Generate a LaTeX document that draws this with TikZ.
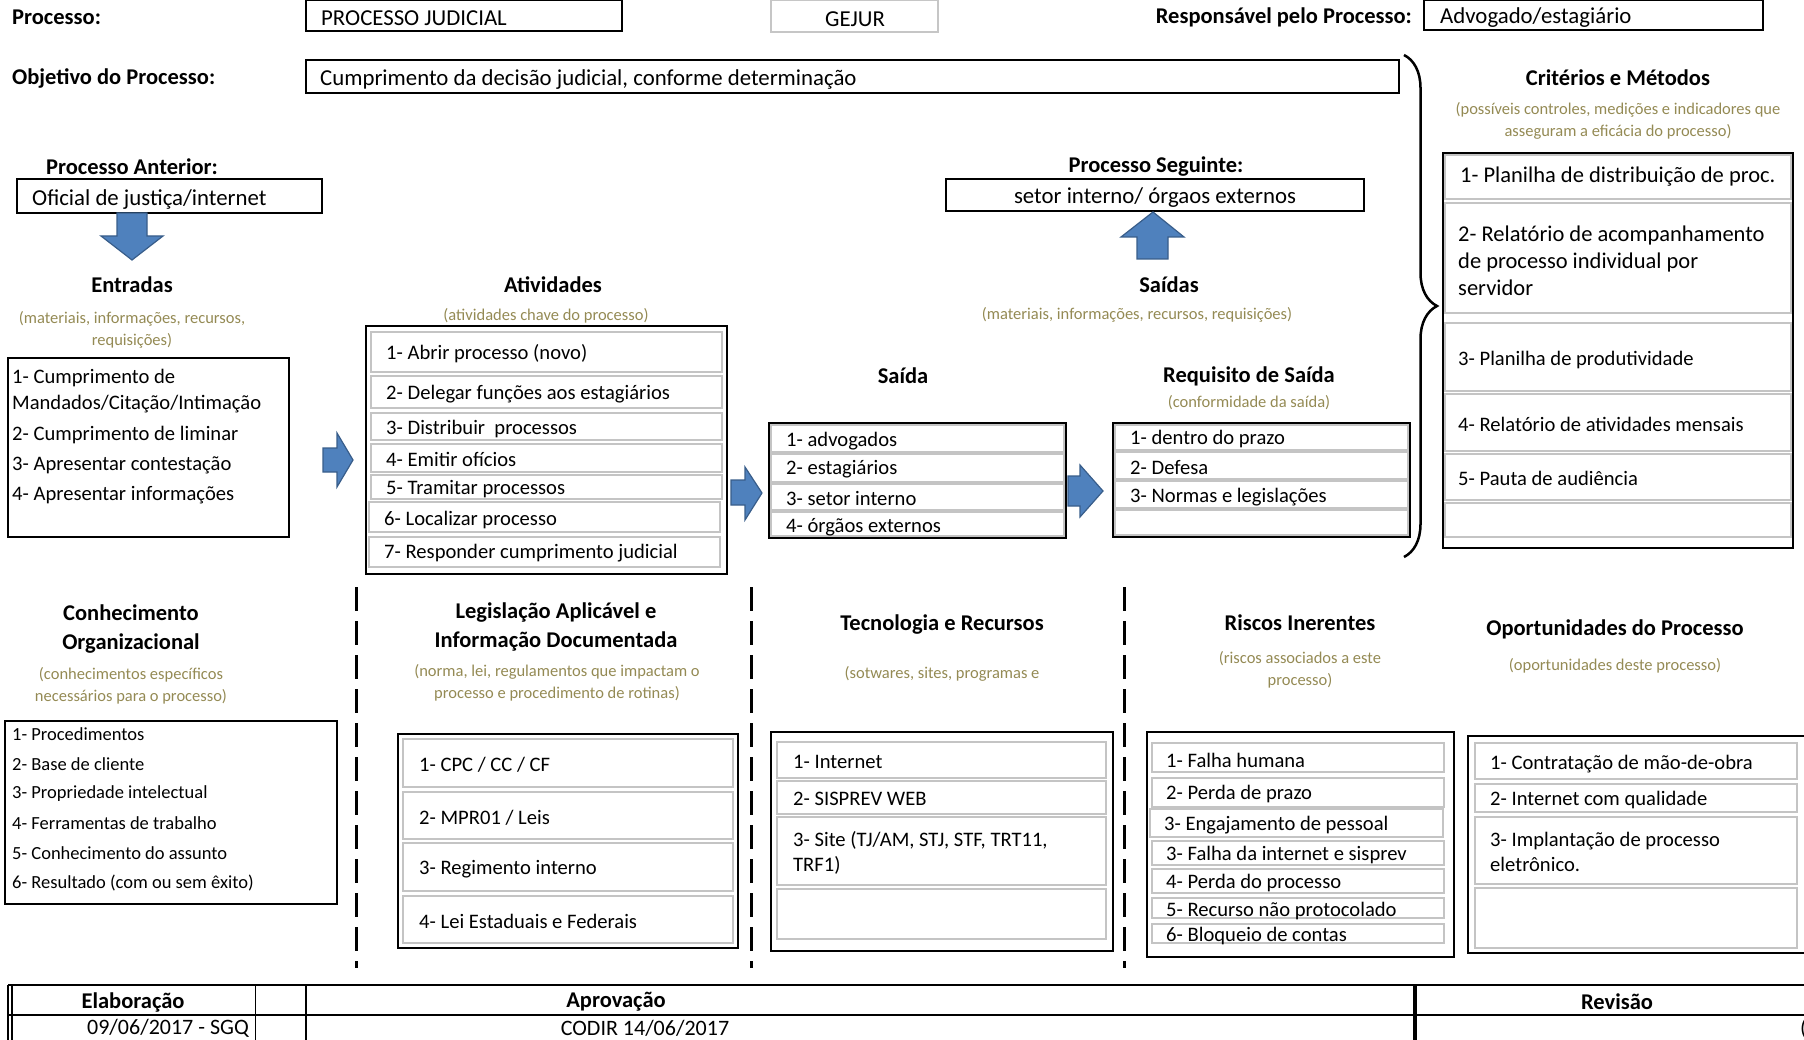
\documentclass[tikz,border=0pt]{standalone}
\usepackage{fontspec}
\setmainfont{Carlito}
\usetikzlibrary{decorations.pathreplacing}

\definecolor{olivetxt}{HTML}{948A54}
\definecolor{arrowblue}{HTML}{4F81BD}
\definecolor{arrowedge}{HTML}{385D8A}
\definecolor{cellgray}{HTML}{C4C4C4}

\tikzset{
  outerbox/.style={draw=black, line width=1.6},
  cellbox/.style={draw=cellgray, line width=2},
  itemtxt/.style={anchor=west, align=left, yshift=-1pt, font=\fontsize{20.6}{25}\selectfont},
  toptxt/.style={yshift=-2pt, font=\fontsize{22.8}{27}\selectfont},
  smalltxt/.style={anchor=west, font=\fontsize{18.5}{22}\selectfont},
  bigtxt/.style={anchor=west, align=left, font=\fontsize{22.5}{27}\selectfont},
  titletxt/.style={align=center, font=\bfseries\fontsize{22.5}{29.5}\selectfont},
  notetxt/.style={align=center, text=olivetxt, font=\fontsize{16.5}{22}\selectfont},
  blockarrow/.style={fill=arrowblue, draw=arrowedge, line width=1.2},
  divider/.style={line width=3, dash pattern=on 24 off 10}
}

\begin{document}
\begin{tikzpicture}[x=1pt,y=-1pt]
\tikzstyle{every node}+=[inner sep=0pt]
\useasboundingbox (0,0) rectangle (1804,1040);
% header
\node[titletxt, anchor=west] (proclbl) at (12,17) {Processo:};
\draw [outerbox] (306,0) rectangle (622,31);
\node[toptxt, anchor=west] (procname) at (321,16) {PROCESSO JUDICIAL};
\draw [draw=gray!45, line width=1.5] (771,0) rectangle (938,32);
\node[toptxt] (gejur) at (855,17) {GEJUR};
\node[titletxt, anchor=east] (resplbl) at (1412,17) {Responsável pelo Processo:};
\draw [outerbox] (1424,0) rectangle (1763,30);
\node[toptxt, anchor=west] (resp) at (1440,16) {Advogado/estagiário};
\node[titletxt, anchor=west] (objlbl) at (12,78) {Objetivo do Processo:};
\draw [outerbox] (306,60) rectangle (1399,93);
\node[toptxt, anchor=west] (obj) at (320,78) {Cumprimento da decisão judicial, conforme determinação};
\draw [line width=2.5, decorate, decoration={brace, amplitude=33}] (1404,55) -- (1404,557);

% criterios e metodos
\node[titletxt] (crittitle) at (1618,78) {Critérios e Métodos};
\node[notetxt] (critnote) at (1618,121) {(possíveis controles, medições e indicadores que\\asseguram a eficácia do processo)};
\draw [outerbox] (1443,153) rectangle (1793,548);
\draw [cellbox] (1445,155) rectangle (1791,199);
\draw [cellbox] (1445,203) rectangle (1791,313);
\draw [cellbox] (1445,323) rectangle (1791,391);
\draw [cellbox] (1445,394) rectangle (1791,451);
\draw [cellbox] (1445,454) rectangle (1791,500);
\draw [cellbox] (1445,503) rectangle (1791,537);
\node[bigtxt] (crit1) at (1460,177) {1- Planilha de distribuição de proc.};
\node[bigtxt] (crit2) at (1458,261) {2- Relatório de acompanhamento\\de processo individual por\\servidor};
\node[itemtxt] (crit3) at (1458,359) {3- Planilha de produtividade};
\node[itemtxt] (crit4) at (1458,423) {4- Relatório de atividades mensais};
\node[itemtxt] (crit5) at (1458,477) {5- Pauta de audiência};

% processo anterior / entradas
\node[titletxt] (anttitle) at (132,167) {Processo Anterior:};
\draw [outerbox] (17,179) rectangle (322,213);
\node[toptxt, anchor=west] (ant) at (32,198) {Oficial de justiça/internet};
\filldraw [blockarrow] (117,213) -- (147,213) -- (147,236) -- (163,236) -- (132,260) -- (101,236) -- (117,236) -- cycle;
\node[titletxt] (enttitle) at (132,285) {Entradas};
\node[notetxt] (entnote) at (132,330) {(materiais, informações, recursos,\\requisições)};
\draw [outerbox] (8,358) rectangle (289,537);
\node[itemtxt] (ent1a) at (12,377) {1- Cumprimento de};
\node[itemtxt] (ent1b) at (12,403) {Mandados/Citação/Intimação};
\node[itemtxt] (ent2) at (12,434) {2- Cumprimento de liminar};
\node[itemtxt] (ent3) at (12,464) {3- Apresentar contestação};
\node[itemtxt] (ent4) at (12,494) {4- Apresentar informações};
\filldraw [blockarrow] (323,448) -- (337,448) -- (337,433) -- (353,460) -- (337,487) -- (337,472) -- (323,472) -- cycle;

% atividades
\node[titletxt] (atvtitle) at (553,285) {Atividades};
\node[notetxt] (atvnote) at (546,316) {(atividades chave do processo)};
\draw [outerbox] (366,326) rectangle (727,574);
\draw [cellbox] (371,332) rectangle (722,372);
\draw [cellbox] (371,376) rectangle (722,408);
\draw [cellbox] (371,413) rectangle (722,440);
\draw [cellbox] (371,444) rectangle (722,472);
\draw [cellbox] (371,475) rectangle (722,499);
\draw [cellbox] (369,502) rectangle (720,532);
\draw [cellbox] (369,537) rectangle (720,567);
\node[itemtxt] (atv1) at (386,353) {1- Abrir processo (novo)};
\node[itemtxt] (atv2) at (386,393) {2- Delegar funções aos estagiários};
\node[itemtxt] (atv3) at (386,428) {3- Distribuir\ \ processos};
\node[itemtxt] (atv4) at (386,458) {4- Emitir ofícios};
\node[itemtxt] (atv5) at (386,488) {5- Tramitar processos};
\node[itemtxt] (atv6) at (384,519) {6- Localizar processo};
\node[itemtxt] (atv7) at (384,552) {7- Responder cumprimento judicial};
\filldraw [blockarrow] (731,480) -- (745,480) -- (745,467) -- (762,493) -- (745,520) -- (745,505) -- (731,505) -- cycle;

% processo seguinte / saidas
\node[titletxt] (segtitle) at (1156,167) {Processo Seguinte:};
\draw [outerbox] (946,179) rectangle (1364,211);
\node[toptxt] (seg) at (1155,196) {setor interno/ órgaos externos};
\filldraw [blockarrow] (1137,259) -- (1168,259) -- (1168,237) -- (1184,237) -- (1153,212) -- (1121,237) -- (1137,237) -- cycle;
\node[titletxt] (saidastitle) at (1169,285) {Saídas};
\node[notetxt] (saidasnote) at (1137,315) {(materiais, informações, recursos, requisições)};

\node[titletxt] (saidatitle) at (903,376) {Saída};
\draw [outerbox] (769,423) rectangle (1066,538);
\draw [cellbox] (771,425) rectangle (1064,452);
\draw [cellbox] (771,454) rectangle (1064,482);
\draw [cellbox] (771,484) rectangle (1064,510);
\draw [cellbox] (771,512) rectangle (1064,536);
\node[itemtxt] (saida1) at (786,440) {1- advogados};
\node[itemtxt] (saida2) at (786,468) {2- estagiários};
\node[itemtxt] (saida3) at (786,497) {3- setor interno};
\node[itemtxt] (saida4) at (786,526) {4- órgãos externos};
\filldraw [blockarrow] (1068,476) -- (1080,476) -- (1080,465) -- (1103,491) -- (1080,517) -- (1080,506) -- (1068,506) -- cycle;

\node[titletxt] (reqtitle) at (1249,376) {Requisito de Saída};
\node[notetxt] (reqnote) at (1249,403) {(conformidade da saída)};
\draw [outerbox] (1113,423) rectangle (1410,537);
\draw [cellbox] (1115,425) rectangle (1408,450);
\draw [cellbox] (1115,452) rectangle (1408,479);
\draw [cellbox] (1115,481) rectangle (1408,508);
\draw [cellbox] (1115,510) rectangle (1408,535);
\node[itemtxt] (req1) at (1130,438) {1- dentro do prazo};
\node[itemtxt] (req2) at (1130,467) {2- Defesa};
\node[itemtxt] (req3) at (1130,496) {3- Normas e legislações};

% dividers
\draw [divider] (356,587) -- (356,968);
\draw [divider] (751,587) -- (751,968);
\draw [divider] (1124,587) -- (1124,968);

% conhecimento organizacional
\node[titletxt] (contitle) at (131,629) {Conhecimento\\Organizacional};
\node[notetxt] (connote) at (131,686) {(conhecimentos específicos\\necessários para o processo)};
\draw [outerbox] (5,721) rectangle (337,904);
\node[smalltxt] (con1) at (12,734) {1- Procedimentos};
\node[smalltxt] (con2) at (12,764) {2- Base de cliente};
\node[smalltxt] (con3) at (12,794) {3- Propriedade intelectual};
\node[smalltxt] (con4) at (12,823) {4- Ferramentas de trabalho};
\node[smalltxt] (con5) at (12,853) {5- Conhecimento do assunto};
\node[smalltxt] (con6) at (12,883) {6- Resultado (com ou sem êxito)};

% legislacao
\node[titletxt] (legtitle) at (556,627) {Legislação Aplicável e\\Informação Documentada};
\node[notetxt] (legnote) at (557,683) {(norma, lei, regulamentos que impactam o\\processo e procedimento de rotinas)};
\draw [outerbox] (398,734) rectangle (738,948);
\draw [cellbox] (403,739) rectangle (733,787);
\draw [cellbox] (403,792) rectangle (733,839);
\draw [cellbox] (403,843) rectangle (733,891);
\draw [cellbox] (403,896) rectangle (733,943);
\node[itemtxt] (leg1) at (419,764) {1- CPC / CC / CF};
\node[itemtxt] (leg2) at (419,817) {2- MPR01 / Leis};
\node[itemtxt] (leg3) at (419,868) {3- Regimento interno};
\node[itemtxt] (leg4) at (419,920) {4- Lei Estaduais e Federais};

% tecnologia
\node[titletxt] (tectitle) at (942,625) {Tecnologia e Recursos};
\node[notetxt] (tecnote) at (942,674) {(sotwares, sites, programas e};
\draw [outerbox] (771,732) rectangle (1113,951);
\draw [cellbox] (777,742) rectangle (1106,778);
\draw [cellbox] (777,781) rectangle (1106,814);
\draw [cellbox] (777,817) rectangle (1106,885);
\draw [cellbox] (777,889) rectangle (1106,939);
\node[itemtxt] (tec1) at (793,761) {1- Internet};
\node[itemtxt] (tec2) at (793,798) {2- SISPREV WEB};
\node[itemtxt] (tec3) at (793,852) {3- Site (TJ/AM, STJ, STF, TRT11,\\TRF1)};

% riscos
\node[titletxt] (risktitle) at (1300,623) {Riscos Inerentes};
\node[notetxt] (risknote) at (1300,670) {(riscos associados a este\\processo)};
\draw [outerbox] (1147,732) rectangle (1454,957);
\draw [cellbox] (1152,743) rectangle (1444,772);
\draw [cellbox] (1152,778) rectangle (1444,807);
\draw [cellbox] (1150,809) rectangle (1443,837);
\draw [cellbox] (1152,841) rectangle (1444,865);
\draw [cellbox] (1152,869) rectangle (1444,893);
\draw [cellbox] (1152,898) rectangle (1444,918);
\draw [cellbox] (1152,924) rectangle (1444,943);
\node[itemtxt] (risk1) at (1166,759) {1- Falha humana};
\node[itemtxt] (risk2) at (1166,793) {2- Perda de prazo};
\node[itemtxt] (risk3) at (1164,824) {3- Engajamento de pessoal};
\node[itemtxt] (risk4) at (1166,854) {3- Falha da internet e sisprev};
\node[itemtxt] (risk5) at (1166,882) {4- Perda do processo};
\node[itemtxt] (risk6) at (1166,910) {5- Recurso não protocolado};
\node[itemtxt] (risk7) at (1166,935) {6- Bloqueio de contas};

% oportunidades
\node[titletxt] (opptitle) at (1615,629) {Oportunidades do Processo};
\node[notetxt] (oppnote) at (1615,666) {(oportunidades deste processo)};
\draw [outerbox] (1468,736) rectangle (1808,953);
\draw [cellbox] (1475,743) rectangle (1797,779);
\draw [cellbox] (1475,784) rectangle (1797,812);
\draw [cellbox] (1475,817) rectangle (1797,884);
\draw [cellbox] (1475,888) rectangle (1797,948);
\node[itemtxt] (opp1) at (1490,763) {1- Contratação de mão-de-obra};
\node[itemtxt] (opp2) at (1490,799) {2- Internet com qualidade};
\node[itemtxt] (opp3) at (1490,851) {3- Implantação de processo\\eletrônico.};

% rodape
\draw [line width=2.2] (8,985) -- (1804,985);
\draw [line width=1.2] (8,1015) -- (1804,1015);
\draw [line width=1.2] (8,985) -- (8,1040);
\draw [line width=1.2] (12,985) -- (12,1040);
\draw [line width=1] (255,985) -- (255,1040);
\draw [line width=1.8] (306,985) -- (306,1040);
\draw [line width=3.5] (1415,985) -- (1415,1040);
\node[titletxt] (elab) at (133,1002) {Elaboração};
\node[font=\fontsize{22}{26}\selectfont] (elabdata) at (168,1028) {09/06/2017 - SGQ};
\node[titletxt] (aprov) at (616,1002) {Aprovação};
\node[font=\fontsize{22}{26}\selectfont] (aprovdata) at (645,1028) {CODIR 14/06/2017};
\node[titletxt] (rev) at (1617,1002) {Revisão};
\node[font=\fontsize{22}{26}\selectfont, anchor=west] (revdata) at (1800,1029) {(};
\end{tikzpicture}
\end{document}
